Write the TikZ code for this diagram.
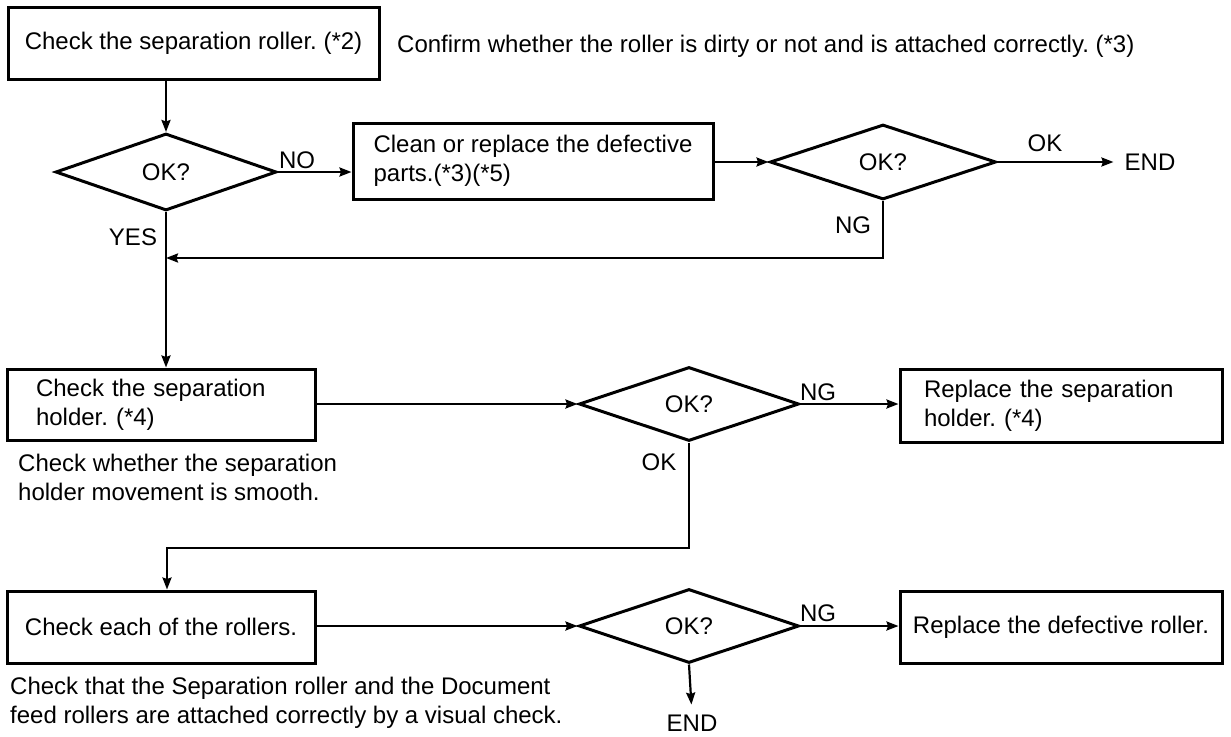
\documentclass[tikz,border=0pt]{standalone}
\usepackage{fontspec}
\setmainfont{Liberation Sans}
\usetikzlibrary{shapes.geometric,arrows.meta}
\begin{document}
\begin{tikzpicture}[x=1pt,y=-1pt,
  font=\fontsize{24}{29}\selectfont\frenchspacing,
  box/.style={draw, line width=3pt, inner sep=0pt},
  dec/.style={draw, diamond, line width=3pt, inner sep=0pt},
  conn/.style={line width=2.2pt},
  arr/.style={conn, -{Stealth[length=12pt,width=9pt,inset=1.5pt]}},
  lbl/.style={inner sep=0pt}]
\useasboundingbox (0,0) rectangle (1231,736);
% row 1
\node[box, minimum width=371pt, minimum height=72pt] (b1) at (193.5,43) {Check the separation roller. (*2)};
\node[lbl, anchor=base west] (n1) at (397,52) {Confirm whether the roller is dirty or not and is attached correctly. (*3)};
\node[dec, minimum width=221pt, minimum height=77pt] (d1) at (166,172) {OK?};
\node[box, minimum width=360pt, minimum height=76pt, align=left] (b2) at (533,161) {Clean or replace the defective\\parts.(*3)(*5)};
\node[dec, minimum width=226pt, minimum height=75pt] (d2) at (883,162) {OK?};
\node[lbl] (ok2) at (1045,143) {OK};
\node[lbl] (end1) at (1150,162) {END};
\node[lbl] (ng2) at (853,225) {NG};
\node[lbl] (yes) at (133,237) {YES};
\node[lbl] (no) at (297,160) {NO};
\coordinate (fb) at (883,258);
\draw[arr] (d1.north |- b1.south) -- (d1.north);
\draw[arr] (d1.east) -- (d1.east -| b2.west);
\draw[arr] (d2.west -| b2.east) -- (d2.west);
\draw[arr, shorten >=11pt] (d2.east) -- (end1.west);
\draw[arr] (d2.south) -- (fb) -- (fb -| d1.south);
% row 2
\node[box, minimum width=308pt, minimum height=71pt, text width=250pt, align=left] (b3) at (161,404.5) {Check the separation\\holder. (*4)};
\node[lbl, anchor=north west, align=left] (n3) at (18,454) {Check whether the separation\\holder movement is smooth.};
\node[dec, minimum width=220pt, minimum height=74pt] (d3) at (689,404) {OK?};
\node[lbl] (ng3) at (818,392) {NG};
\node[lbl] (ok3) at (659,462) {OK};
\node[box, minimum width=322pt, minimum height=73pt, text width=274pt, align=left] (b4) at (1061,405.5) {Replace the separation\\holder. (*4)};
\draw[arr] (d1.south) -- (d1.south |- b3.north);
\draw[arr] (b3.east |- d3.west) -- (d3.west);
\draw[arr] (d3.east) -- (d3.east -| b4.west);
% row 3
\node[box, minimum width=308pt, minimum height=72pt] (b5) at (161,627) {Check each of the rollers.};
\node[lbl, anchor=north west, align=left] (n5) at (10,677) {Check that the Separation roller and the Document\\feed rollers are attached correctly by a visual check.};
\node[dec, minimum width=220pt, minimum height=74pt] (d4) at (689,626) {OK?};
\node[lbl] (ng4) at (818,613) {NG};
\node[box, minimum width=322pt, minimum height=72pt] (b6) at (1061,627) {Replace the defective roller.};
\node[lbl] (end2) at (692,723) {END};
\coordinate (j) at (167,548);
\draw[arr] (d3.south) -- (d3.south |- j) -- (j) -- (j |- b5.north);
\draw[arr] (b5.east |- d4.west) -- (d4.west);
\draw[arr] (d4.east) -- (d4.east -| b6.west);
\draw[arr, shorten >=10pt] (d4.south) -- (end2.north);
\end{tikzpicture}
\end{document}
